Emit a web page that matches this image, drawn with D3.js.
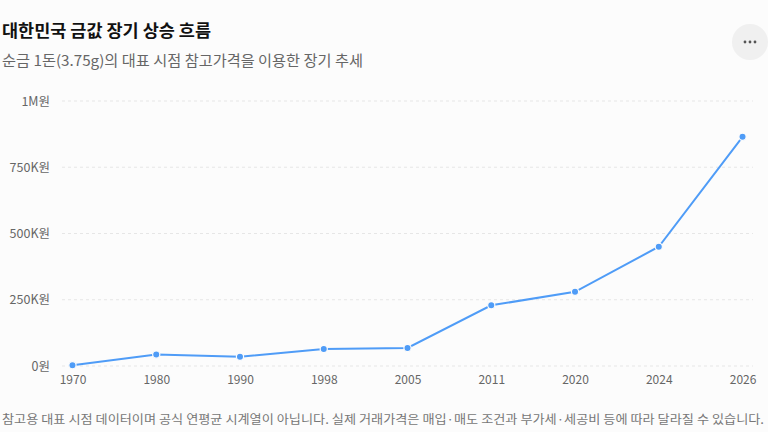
<!DOCTYPE html>
<html>
<head>
<meta charset="utf-8">
<script src="https://cdn.jsdelivr.net/npm/d3@7"></script>
<style>
  html, body { margin: 0; padding: 0; background: #fcfcfc; }
  svg { display: block; font-family: "Noto Sans CJK KR", "Noto Sans", sans-serif; }
</style>
</head>
<body>
<svg id="chart" width="768" height="432"></svg>
<script>
const years = ['1970', '1980', '1990', '1998', '2005', '2011', '2020', '2024', '2026'];
const prices = [3000, 43000, 35000, 64000, 68000, 229000, 280000, 450000, 865000];
const yTicks = [0, 250000, 500000, 750000, 1000000];
const yTickLabels = ['0원', '250K원', '500K원', '750K원', '1M원'];

const titleText = '대한민국 금값 장기 상승 흐름';
const subtitleText = '순금 1돈(3.75g)의 대표 시점 참고가격을 이용한 장기 추세';
const noteText = '참고용 대표 시점 데이터이며 공식 연평균 시계열이 아닙니다. 실제 거래가격은 매입·매도 조건과 부가세·세공비 등에 따라 달라질 수 있습니다.';

const svg = d3.select('#chart');
const width = +svg.attr('width');
const margin = {top: 101, right: 15, bottom: 66, left: 62};
const innerWidth = width - margin.left - margin.right;
const innerHeight = +svg.attr('height') - margin.top - margin.bottom;

const data = years.map((y, i) => ({year: y, price: prices[i]}));

// titles
svg.append('text')
    .attr('x', 2).attr('y', 37)
    .attr('font-size', 16.5).attr('font-weight', 700).attr('fill', '#111')
    .attr('textLength', 209).attr('lengthAdjust', 'spacingAndGlyphs')
    .text(titleText);
svg.append('text')
    .attr('x', 2).attr('y', 66)
    .attr('font-size', 14.5).attr('fill', '#666')
    .attr('textLength', 361).attr('lengthAdjust', 'spacingAndGlyphs')
    .text(subtitleText);

// menu button
const btn = svg.append('g').attr('transform', 'translate(750, 42)');
btn.append('circle').attr('r', 18).attr('fill', '#f0f0f0');
btn.selectAll('.dot').data([-5, 0, 5]).enter().append('circle')
    .attr('cx', d => d).attr('r', 1.4).attr('fill', '#555');

const g = svg.append('g').attr('transform', `translate(${margin.left}, ${margin.top})`);

const xScale = d3.scalePoint().domain(years).range([0, innerWidth]).padding(0.125);
const yScale = d3.scaleLinear().domain([0, 1000000]).range([innerHeight, 0]);

// grid
g.append('g').selectAll('line').data(yTicks).enter().append('line')
    .attr('x1', 0).attr('x2', innerWidth)
    .attr('y1', d => yScale(d)).attr('y2', d => yScale(d))
    .attr('stroke', '#e6e6e6').attr('stroke-dasharray', '3,3');

// y axis
const yAxisG = g.append('g')
    .call(d3.axisLeft(yScale).tickValues(yTicks)
        .tickFormat((d, i) => yTickLabels[i]).tickSize(0).tickPadding(12));
yAxisG.select('.domain').remove();
yAxisG.selectAll('text').attr('font-size', 12.5).attr('fill', '#666')
    .style('font-family', '"Noto Sans CJK KR", sans-serif');

// x axis
const xAxisG = g.append('g').attr('transform', `translate(0, ${innerHeight})`)
    .call(d3.axisBottom(xScale).tickSize(0).tickPadding(9));
xAxisG.select('.domain').remove();
xAxisG.selectAll('text').attr('font-size', 12).attr('fill', '#666')
    .style('font-family', '"Noto Sans CJK KR", sans-serif');

// line
const lineGenerator = d3.line()
    .x(d => xScale(d.year))
    .y(d => yScale(d.price));

g.append('path')
    .datum(data)
    .attr('d', lineGenerator)
    .attr('fill', 'none')
    .attr('stroke', '#4f9cf7')
    .attr('stroke-width', 2);

g.selectAll('.pt').data(data).enter().append('circle')
    .attr('class', 'pt')
    .attr('cx', d => xScale(d.year))
    .attr('cy', d => yScale(d.price))
    .attr('r', 3.6)
    .attr('fill', '#4f9cf7')
    .attr('stroke', '#fcfcfc')
    .attr('stroke-width', 1.2);

// footnote
svg.append('text')
    .attr('x', 2).attr('y', 424)
    .attr('font-size', 12).attr('fill', '#777')
    .attr('textLength', 762).attr('lengthAdjust', 'spacingAndGlyphs')
    .text(noteText);
</script>
</body>
</html>
